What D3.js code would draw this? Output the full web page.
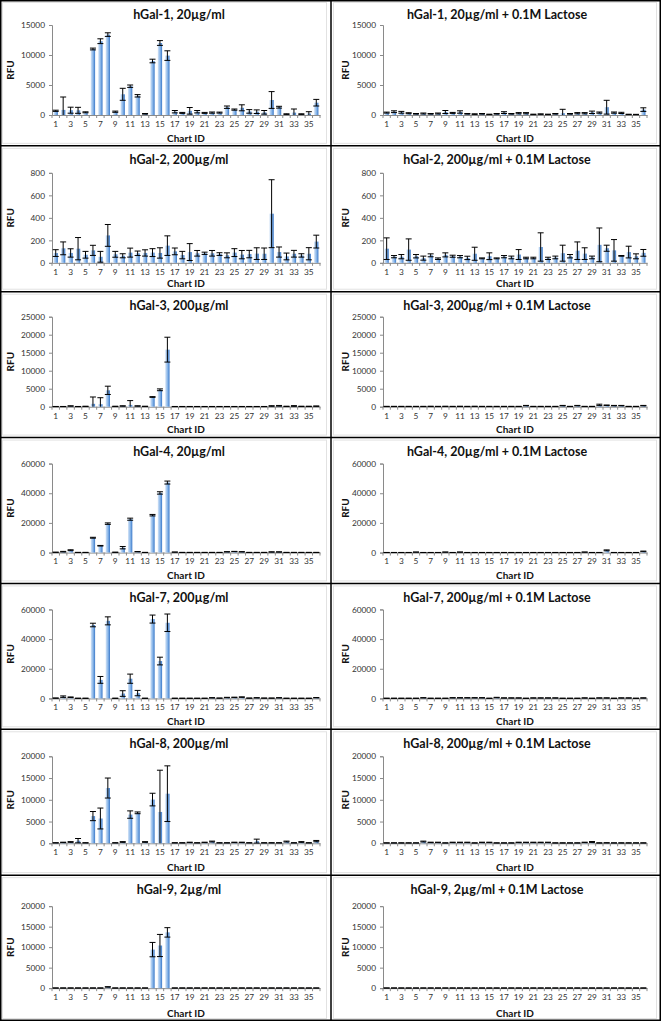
<!DOCTYPE html>
<html><head><meta charset="utf-8">
<script src="https://cdn.jsdelivr.net/npm/d3@7"></script>
<style>
body{margin:0;background:#fff}
svg{display:block}
text{font-family:Lato,"Open Sans",sans-serif}
</style></head><body><svg id="c" width="662" height="1022"></svg>
<script>
// ---------- DATA ----------
const chartIds = d3.range(1, 37);
const xTickLabels = [1,3,5,7,9,11,13,15,17,19,21,23,25,27,29,31,33,35];

const titles = [
  ["hGal-1, 20µg/ml", "hGal-1, 20µg/ml + 0.1M Lactose"],
  ["hGal-2, 200µg/ml", "hGal-2, 200µg/ml + 0.1M Lactose"],
  ["hGal-3, 200µg/ml", "hGal-3, 200µg/ml + 0.1M Lactose"],
  ["hGal-4, 20µg/ml", "hGal-4, 20µg/ml + 0.1M Lactose"],
  ["hGal-7, 200µg/ml", "hGal-7, 200µg/ml + 0.1M Lactose"],
  ["hGal-8, 200µg/ml", "hGal-8, 200µg/ml + 0.1M Lactose"],
  ["hGal-9, 2µg/ml", "hGal-9, 2µg/ml + 0.1M Lactose"]
];
const yTicks1 = [0, 5000, 10000, 15000];
const yTicks2 = [0, 200, 400, 600, 800];
const yTicks3 = [0, 5000, 10000, 15000, 20000, 25000];
const yTicks4 = [0, 20000, 40000, 60000];
const yTicks7 = [0, 20000, 40000, 60000];
const yTicks8 = [0, 5000, 10000, 15000, 20000];
const yTicks9 = [0, 5000, 10000, 15000, 20000];

const g1  = [700,850,800,780,450,11000,12300,13400,550,3450,4800,3200,200,9000,12000,9900,550,350,700,550,350,400,400,1300,900,1200,600,550,450,2500,1300,150,400,150,250,2050];
const g1e = [100,2150,500,500,80,150,400,300,100,1000,200,200,50,300,400,800,200,80,550,200,80,100,80,200,100,500,300,300,300,1400,150,50,600,50,300,550];
const g1L  = [400,550,450,300,200,250,200,250,500,350,500,200,150,200,100,200,400,200,300,300,100,150,100,200,300,200,300,300,450,400,1300,400,350,100,80,900];
const g1Le = [80,150,150,80,50,80,50,80,250,80,200,50,50,50,40,50,150,50,100,100,40,40,40,50,650,50,100,100,200,100,1150,100,100,30,30,300];

const g2  = [87,129,88,126,72,111,54,244,76,63,91,85,88,91,88,153,102,69,96,85,85,85,78,67,91,73,78,82,81,437,96,57,81,66,81,189];
const g2e = [30,57,37,99,30,45,48,97,26,18,40,20,28,35,46,87,30,33,75,25,10,25,12,22,35,37,33,52,51,302,45,30,30,15,54,57];
const g2L  = [126,55,55,118,59,42,67,37,71,59,55,44,81,40,59,40,55,48,74,43,43,141,40,48,86,59,108,82,48,160,130,111,62,96,58,89];
const g2Le = [96,10,19,95,15,18,13,7,18,9,10,15,58,4,30,4,10,12,44,7,7,126,10,12,71,15,78,52,12,150,27,96,3,52,22,30];

const g3  = [50,50,200,50,100,800,700,4550,100,200,500,200,100,2700,4700,15850,50,50,50,50,50,50,50,50,50,50,50,50,50,200,250,100,200,100,100,150];
const g3e = [20,20,50,20,30,1900,1800,1150,30,50,1200,50,30,100,250,3450,20,20,20,20,20,20,20,20,20,20,20,20,20,80,100,40,100,40,40,60];
const g3L  = [80,80,80,80,80,80,100,80,100,80,100,80,100,80,80,80,80,80,80,300,80,80,80,80,300,80,300,80,80,500,400,300,300,80,80,300];
const g3Le = [30,30,30,30,30,30,30,30,30,30,30,30,30,30,30,30,30,30,30,60,30,30,30,30,60,30,60,30,30,200,80,60,60,30,30,60];

const g4  = [200,600,1600,100,100,10000,4600,19500,200,3300,22500,600,100,25200,40200,47200,300,100,100,100,100,100,100,500,700,500,100,100,100,400,400,100,100,100,100,100];
const g4e = [50,200,300,30,30,300,200,500,50,800,700,100,30,500,800,1000,50,30,30,30,30,30,30,100,100,100,30,30,30,100,100,30,30,30,30,30];
const g4L  = [50,50,50,50,300,50,50,50,300,50,300,50,50,50,50,50,50,50,50,50,50,50,50,50,50,50,50,300,50,50,1500,50,50,50,50,800];
const g4Le = [30,30,30,30,50,30,30,30,50,30,50,30,30,30,30,30,30,30,30,30,30,30,30,30,30,30,30,50,30,30,300,30,30,30,30,200];

const g7  = [200,1200,800,100,100,49500,12500,52300,100,3300,13300,3600,100,53500,25200,51000,100,100,100,100,100,400,200,600,700,900,200,400,200,200,400,100,100,100,100,500];
const g7e = [100,500,200,50,50,1200,2300,2700,50,1900,3100,1800,50,2700,2600,5900,50,50,50,50,50,100,50,150,150,150,50,100,50,50,100,50,50,50,50,100];
const g7L  = [100,100,100,100,100,400,100,100,100,400,400,400,400,400,100,600,300,300,300,100,300,300,300,300,100,100,100,300,100,300,300,100,300,300,100,300];
const g7Le = [50,50,50,50,50,100,50,50,50,100,100,100,100,100,50,150,80,80,80,50,80,80,80,80,50,50,50,80,50,80,80,50,80,80,50,80];

const g8  = [100,200,300,600,100,6250,5700,12700,100,300,6600,7000,300,10050,7200,11400,100,100,200,100,200,400,100,100,200,200,100,500,100,100,100,400,100,300,100,500];
const g8e = [30,50,80,500,30,1050,2400,2300,30,80,850,200,80,1450,9600,6400,30,30,50,30,50,100,30,30,50,50,30,450,30,30,30,100,30,80,30,150];
const g8L  = [80,80,80,80,80,400,200,200,80,200,200,200,80,200,200,80,80,80,200,200,200,200,200,80,80,80,80,200,300,80,100,80,80,80,80,80];
const g8Le = [20,20,20,20,20,100,50,50,20,50,50,50,20,50,50,20,20,20,50,50,50,50,50,20,20,20,20,50,100,20,30,20,20,20,20,20];

const g9  = [30,30,30,30,30,30,30,300,30,30,30,30,30,9400,10400,13600,30,30,30,30,30,30,30,30,30,30,30,30,30,30,30,30,30,30,30,30];
const g9e = [10,10,10,10,10,10,10,50,10,10,10,10,10,1750,2700,1150,10,10,10,10,10,10,10,10,10,10,10,10,10,10,10,10,10,10,10,10];
const g9L  = [30,30,30,30,30,30,30,30,30,30,30,30,30,30,30,30,30,30,30,30,30,30,30,30,30,30,30,30,30,30,30,30,30,30,30,30];
const g9Le = [10,10,10,10,10,10,10,10,10,10,10,10,10,10,10,10,10,10,10,10,10,10,10,10,10,10,10,10,10,10,10,10,10,10,10,10];

// table built from the arrays
const panelRows = [
  [[g1, g1e, yTicks1], [g1L, g1Le, yTicks1]],
  [[g2, g2e, yTicks2], [g2L, g2Le, yTicks2]],
  [[g3, g3e, yTicks3], [g3L, g3Le, yTicks3]],
  [[g4, g4e, yTicks4], [g4L, g4Le, yTicks4]],
  [[g7, g7e, yTicks7], [g7L, g7Le, yTicks7]],
  [[g8, g8e, yTicks8], [g8L, g8Le, yTicks8]],
  [[g9, g9e, yTicks9], [g9L, g9Le, yTicks9]]
];

// ---------- LAYOUT ----------
const svg = d3.select("#c");
const W = 662, H = 1022;
const rowH = 1021 / 7;
const colW = 331;
const plotTop = [25, 27, 25, 26, 26, 27, 31];
const plotBot = [115, 117, 115, 115, 115, 114, 113];

const defs = svg.append("defs");
const grad = defs.append("linearGradient").attr("id", "barGrad")
  .attr("x1", "0").attr("x2", "1").attr("y1", "0").attr("y2", "0");
grad.append("stop").attr("offset", "0%").attr("stop-color", "#d4e4f7");
grad.append("stop").attr("offset", "55%").attr("stop-color", "#86b4e8");
grad.append("stop").attr("offset", "100%").attr("stop-color", "#3a78c8");

svg.append("rect").attr("width", W).attr("height", H).attr("fill", "#fff");

const axisCol = "#8a8a8a";

panelRows.forEach((row, r) => {
  row.forEach((p, c) => {
    const [vals, errs, ticks] = p;
    const x0 = c * colW, y0 = r * rowH;
    const g = svg.append("g");

    // faint chart-area border
    g.append("rect")
      .attr("x", x0 + 2.5).attr("y", y0 + 2.5)
      .attr("width", (c ? 323 : 324)).attr("height", rowH - 5)
      .attr("fill", "none").attr("stroke", "#e2e2e2").attr("stroke-width", 1);

    const left = x0 + 52, right = x0 + (c ? 316 : 320);
    const top = y0 + plotTop[r], bot = y0 + plotBot[r];
    const x = d3.scaleBand().domain(chartIds).range([left, right]).paddingInner(0.42).paddingOuter(0.21);
    const y = d3.scaleLinear().domain([0, d3.max(ticks)]).range([bot, top]);
    const step = x.step();

    // title
    g.append("text").attr("x", x0 + (c ? 166 : 179)).attr("y", y0 + 18.5)
      .attr("text-anchor", "middle").attr("font-size", 12.5).attr("font-weight", "bold")
      .attr("fill", "#111").text(titles[r][c]);

    // y axis
    const ya = g.append("g").attr("transform", `translate(${left},0)`)
      .call(d3.axisLeft(y).tickValues(ticks).tickSize(3).tickPadding(4).tickFormat(d3.format("d")));
    ya.select(".domain").attr("stroke", axisCol);
    ya.selectAll(".tick line").attr("stroke", axisCol);
    ya.selectAll(".tick text").attr("font-size", 8.3).attr("fill", "#333")
      .attr("font-family", "Lato, 'Open Sans', sans-serif");

    // x axis
    const xa = g.append("g").attr("transform", `translate(0,${bot})`)
      .call(d3.axisBottom(x).tickValues(xTickLabels).tickSize(0).tickPadding(6));
    xa.select(".domain").attr("stroke", axisCol);
    xa.selectAll(".tick text").attr("font-size", 8.3).attr("fill", "#333")
      .attr("font-family", "Lato, 'Open Sans', sans-serif");
    // minor tick marks between categories
    const bounds = chartIds.map(d => x(d) - (step - x.bandwidth()) / 2).concat([right]);
    g.selectAll("line.xt").data(bounds).enter().append("line")
      .attr("x1", d => d).attr("x2", d => d).attr("y1", bot).attr("y2", bot + 3)
      .attr("stroke", axisCol);

    // axis titles
    g.append("text").attr("transform", `translate(${x0 + (c ? 18 : 14)},${(top + bot) / 2}) rotate(-90)`)
      .attr("text-anchor", "middle").attr("font-size", 10).attr("font-weight", "bold")
      .attr("fill", "#111").text("RFU");
    g.append("text").attr("x", (left + right) / 2).attr("y", y0 + 141.5)
      .attr("text-anchor", "middle").attr("font-size", 10).attr("font-weight", "bold")
      .attr("fill", "#111").text("Chart ID");

    const data = chartIds.map((id, i) => ({ id, v: vals[i], e: errs[i] }));

    // bars
    g.selectAll("rect.bar").data(data).enter().append("rect")
      .attr("x", d => x(d.id)).attr("width", x.bandwidth())
      .attr("y", d => y(d.v)).attr("height", d => bot - y(d.v))
      .attr("fill", "url(#barGrad)");

    // error bars
    const eb = g.selectAll("g.eb").data(data).enter().append("g");
    const cx = d => x(d.id) + x.bandwidth() / 2;
    const hi = d => y(Math.min(d.v + d.e, d3.max(ticks) * 1.05));
    const lo = d => y(Math.max(d.v - d.e, 0));
    eb.append("line").attr("x1", cx).attr("x2", cx).attr("y1", hi).attr("y2", lo)
      .attr("stroke", "#000").attr("stroke-width", 1);
    eb.append("line").attr("x1", d => cx(d) - 3).attr("x2", d => cx(d) + 3)
      .attr("y1", hi).attr("y2", hi).attr("stroke", "#000").attr("stroke-width", 1);
    eb.filter(d => d.v - d.e > 0).append("line")
      .attr("x1", d => cx(d) - 3).attr("x2", d => cx(d) + 3)
      .attr("y1", lo).attr("y2", lo).attr("stroke", "#000").attr("stroke-width", 1);
  });
});

// panel grid lines
const grid = svg.append("g").attr("stroke", "#000").attr("fill", "none");
grid.append("rect").attr("x", 0.75).attr("y", 0.75).attr("width", W - 2.5).attr("height", H - 2.5)
  .attr("stroke-width", 1.5);
grid.append("line").attr("x1", colW).attr("x2", colW).attr("y1", 0).attr("y2", H - 1).attr("stroke-width", 1.5);
d3.range(1, 7).forEach(r => {
  grid.append("line").attr("x1", 0).attr("x2", W - 1).attr("y1", r * rowH).attr("y2", r * rowH).attr("stroke-width", 1.5);
});
</script></body></html>
